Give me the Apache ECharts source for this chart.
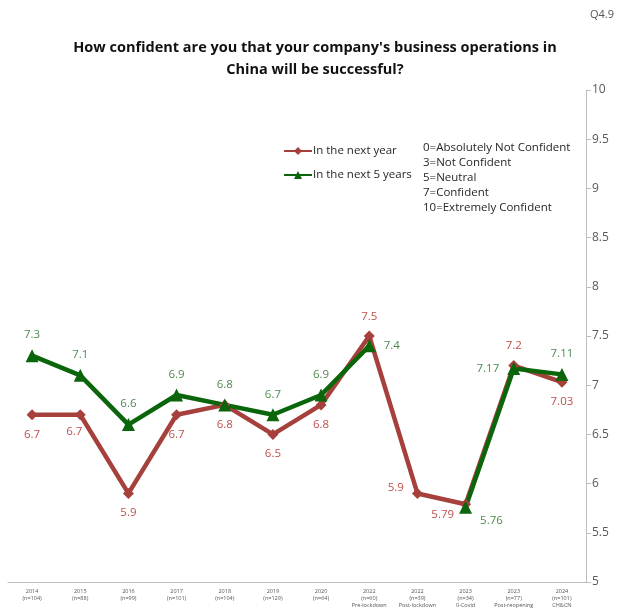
<!DOCTYPE html>
<html><head><meta charset="utf-8">
<script src="https://cdn.jsdelivr.net/npm/echarts@6/dist/echarts.min.js"></script>
<style>html,body{margin:0;padding:0;background:#fff}#c{width:620px;height:610px}</style>
</head><body><div id="c"></div>
<script>
const categories = [
  "2014\n(n=104)", "2015\n(n=88)", "2016\n(n=99)", "2017\n(n=101)", "2018\n(n=104)",
  "2019\n(n=129)", "2020\n(n=64)", "2022\n(n=60)\nPre-lockdown", "2022\n(n=39)\nPost-lockdown",
  "2023\n(n=34)\n0-Covid", "2023\n(n=77)\nPost-reopening", "2024\n(n=101)\nCH&CN"
];
const nextYear = [6.7, 6.7, 5.9, 6.7, 6.8, 6.5, 6.8, 7.5, 5.9, 5.79, 7.2, 7.03];
const next5Years = [7.3, 7.1, 6.6, 6.9, 6.8, 6.7, 6.9, 7.4, null, 5.76, 7.17, 7.11];
const yTicks = [5, 5.5, 6, 6.5, 7, 7.5, 8, 8.5, 9, 9.5, 10];

const redLabelOverrides = {
  1: {position: 'bottom', offset: [-6, -3]},
  7: {position: 'top'},
  8: {position: 'left', offset: [0, -6]},
  9: {position: 'left', offset: [2, 10]},
  10: {position: 'top'}
};
const greenLabelOverrides = {
  7: {position: 'right'},
  9: {position: 'right', offset: [0, 14]},
  10: {position: 'left'}
};
function build(values, overrides) {
  return values.map((v, i) => overrides[i] ? {value: v, label: overrides[i]} : v);
}

const chart = echarts.init(document.getElementById('c'));
chart.setOption({
  animation: false,
  backgroundColor: '#fff',
  title: {
    text: "How confident are you that your company's business operations in\nChina will be successful?",
    left: 310, textAlign: 'center', top: 32,
    textStyle: {fontFamily: 'Open Sans', fontSize: 14.5, fontWeight: 'bold', color: '#111', lineHeight: 22}
  },
  graphic: [
    {type: 'text', right: 6, top: 9, style: {text: 'Q4.9', font: '11px "Open Sans"', fill: '#555'}},
    {type: 'text', left: 423, top: 140, style: {
      text: '0=Absolutely Not Confident\n3=Not Confident\n5=Neutral\n7=Confident\n10=Extremely Confident',
      font: '11.5px "Open Sans"', fill: '#262626', lineHeight: 15}}
  ],
  legend: {
    orient: 'vertical', left: 278, top: 140, itemGap: 12, itemWidth: 28, itemHeight: 10,
    textStyle: {fontFamily: 'Open Sans', fontSize: 11.5, color: '#262626', padding: [0, 0, 0, -4]},
    data: ['In the next year', 'In the next 5 years']
  },
  grid: {left: 8, right: 34, top: 90, bottom: 28},
  xAxis: {
    type: 'category', data: categories, boundaryGap: true,
    axisLine: {lineStyle: {color: '#bfbfbf', width: 1}},
    axisTick: {inside: true, length: 4, lineStyle: {color: '#bfbfbf'}},
    axisLabel: {fontFamily: 'Open Sans', fontSize: 5.5, color: '#555', lineHeight: 7, margin: 6, interval: 0}
  },
  yAxis: {
    type: 'value', position: 'right', min: 5, max: 10, interval: 0.5,
    axisLine: {show: true, lineStyle: {color: '#bfbfbf'}},
    axisTick: {show: true, length: 5, lineStyle: {color: '#bfbfbf'}},
    splitLine: {show: false},
    axisLabel: {fontFamily: 'Open Sans', fontSize: 12, color: '#595959', margin: 6,
      formatter: v => yTicks.includes(v) ? String(v) : ''}
  },
  series: [
    {
      name: 'In the next year', type: 'line', data: build(nextYear, redLabelOverrides),
      symbol: 'diamond', symbolSize: 11,
      lineStyle: {color: '#a6403c', width: 4.5},
      itemStyle: {color: '#a6403c'},
      label: {show: true, position: 'bottom', distance: 8, color: '#c0504d',
        fontFamily: 'Open Sans', fontSize: 11.5}
    },
    {
      name: 'In the next 5 years', type: 'line', data: build(next5Years, greenLabelOverrides),
      connectNulls: false,
      symbol: 'triangle', symbolSize: 13,
      lineStyle: {color: '#0b650b', width: 4.5},
      itemStyle: {color: '#0b650b'},
      label: {show: true, position: 'top', distance: 8, color: '#4e8a4e',
        fontFamily: 'Open Sans', fontSize: 11.5}
    }
  ]
});
</script>
</body></html>
